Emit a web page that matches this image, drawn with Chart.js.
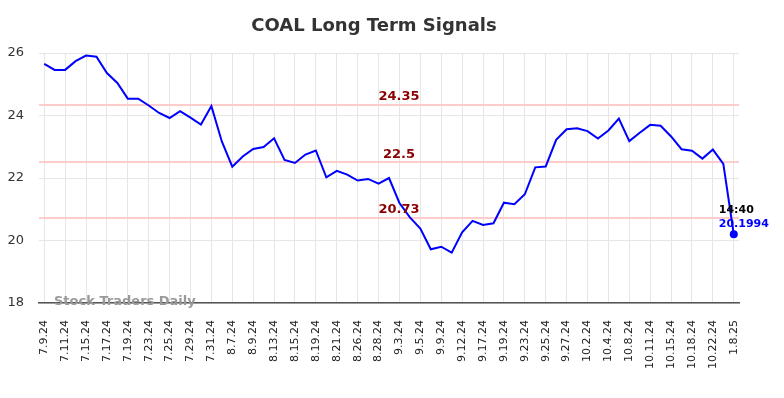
<!DOCTYPE html>
<html>
<head>
<meta charset="utf-8">
<script src="https://cdn.jsdelivr.net/npm/chart.js@4/dist/chart.umd.min.js"></script>
<style>
  html, body { margin: 0; padding: 0; background: #fff; }
  #wrap { width: 784px; height: 398px; position: relative; }
</style>
</head>
<body>
<div id="wrap"><canvas id="c"></canvas></div>
<script>
// tick labels, one every other session
const tickLabels = ['7.9.24', '7.11.24', '7.15.24', '7.17.24', '7.19.24', '7.23.24', '7.25.24',
  '7.29.24', '7.31.24', '8.7.24', '8.9.24', '8.13.24', '8.15.24', '8.19.24', '8.21.24',
  '8.26.24', '8.28.24', '9.3.24', '9.5.24', '9.9.24', '9.12.24', '9.17.24', '9.19.24',
  '9.23.24', '9.25.24', '9.27.24', '10.2.24', '10.4.24', '10.8.24', '10.11.24', '10.15.24',
  '10.18.24', '10.22.24', '1.8.25'];

const prices = [25.65, 25.46, 25.46, 25.74, 25.92, 25.88, 25.36, 25.04, 24.54, 24.54,
  24.32, 24.08, 23.92, 24.14, 23.93, 23.71, 24.30, 23.17, 22.36, 22.69,
  22.93, 22.99, 23.27, 22.58, 22.48, 22.75, 22.88, 22.02, 22.23, 22.11,
  21.92, 21.97, 21.82, 22.00, 21.20, 20.74, 20.38, 19.72, 19.80, 19.61,
  20.26, 20.63, 20.50, 20.55, 21.21, 21.16, 21.48, 22.34, 22.37, 23.22,
  23.56, 23.59, 23.50, 23.26, 23.52, 23.90, 23.18, 23.45, 23.70, 23.67,
  23.33, 22.92, 22.87, 22.62, 22.91, 22.45, 20.1994];

const signalLevels = [24.35, 22.5, 20.73];
const yTicks = [18, 20, 22, 24, 26];
const lastTime = '14:40';

// categories: labelled ticks with an unlabelled session between each
const labels = [];
tickLabels.forEach((t, i) => {
  labels.push(t);
  if (i < tickLabels.length - 1) labels.push('');
});

const FONT = "'DejaVu Sans', sans-serif";

const overlay = {
  id: 'overlay',
  beforeDatasetsDraw(chart) {
    const { ctx, chartArea: a, scales: { y } } = chart;
    ctx.save();
    ctx.strokeStyle = '#ffcccc';
    ctx.lineWidth = 2;
    signalLevels.forEach((v) => {
      const py = Math.round(y.getPixelForValue(v));
      ctx.beginPath();
      ctx.moveTo(a.left, py);
      ctx.lineTo(a.right, py);
      ctx.stroke();
    });
    ctx.restore();
  },
  afterDatasetsDraw(chart) {
    const { ctx, chartArea: a, scales: { x, y } } = chart;
    ctx.save();
    // level labels
    ctx.font = `bold 13px ${FONT}`;
    ctx.fillStyle = '#8b0000';
    ctx.textAlign = 'center';
    ctx.textBaseline = 'middle';
    signalLevels.forEach((v) => {
      ctx.fillText(String(v), 399, y.getPixelForValue(v) - 8);
    });
    // last point
    const n = prices.length - 1;
    const px = x.getPixelForValue(n);
    const py = y.getPixelForValue(prices[n]);
    ctx.fillStyle = '#0000ff';
    ctx.beginPath();
    ctx.arc(px, py, 4, 0, Math.PI * 2);
    ctx.fill();
    ctx.font = `bold 11px ${FONT}`;
    ctx.textAlign = 'left';
    ctx.fillStyle = '#000';
    ctx.fillText(lastTime, px - 15, py - 24);
    ctx.fillStyle = '#0000ff';
    ctx.fillText(String(prices[n]), px - 15, py - 10);
    // watermark
    ctx.font = `bold 13px ${FONT}`;
    ctx.fillStyle = '#999';
    ctx.textAlign = 'left';
    ctx.fillText('Stock Traders Daily', 54, a.bottom - 1);
    // title
    ctx.font = `bold 18px ${FONT}`;
    ctx.fillStyle = '#333';
    ctx.textAlign = 'center';
    ctx.fillText('COAL Long Term Signals', 374, 26);
    ctx.restore();
  },
};

new Chart(document.getElementById('c'), {
  type: 'line',
  data: {
    labels,
    datasets: [{
      data: prices,
      borderColor: '#0000ff',
      borderWidth: 2,
      pointRadius: 0,
      tension: 0,
      fill: false,
    }],
  },
  options: {
    responsive: true, maintainAspectRatio: false,
    animation: false,
    layout: { padding: { left: 0, right: 45, top: 53, bottom: 0 } },
    plugins: { legend: { display: false }, title: { display: false }, tooltip: { enabled: false } },
    scales: {
      x: {
        offset: true,
        grid: { color: '#e6e6e6', drawTicks: false, offset: false },
        border: { color: '#555', width: 1.5 },
        afterFit: (s) => { s.height = 95; },
        ticks: {
          autoSkip: false, minRotation: 90, maxRotation: 90, padding: 17,
          color: '#222', font: { family: FONT, size: 11 },
          callback: (v, i) => (labels[i] === '' ? null : labels[i]),
        },
      },
      y: {
        min: 18, max: 26,
        afterBuildTicks: (s) => { s.ticks = yTicks.map((v) => ({ value: v })); },
        afterFit: (s) => { s.width = 39; },
        grid: { color: '#e6e6e6', drawTicks: false },
        border: { display: false },
        ticks: { padding: 15, color: '#333', font: { family: FONT, size: 13 } },
      },
    },
  },
  plugins: [overlay],
});
</script>
</body>
</html>
